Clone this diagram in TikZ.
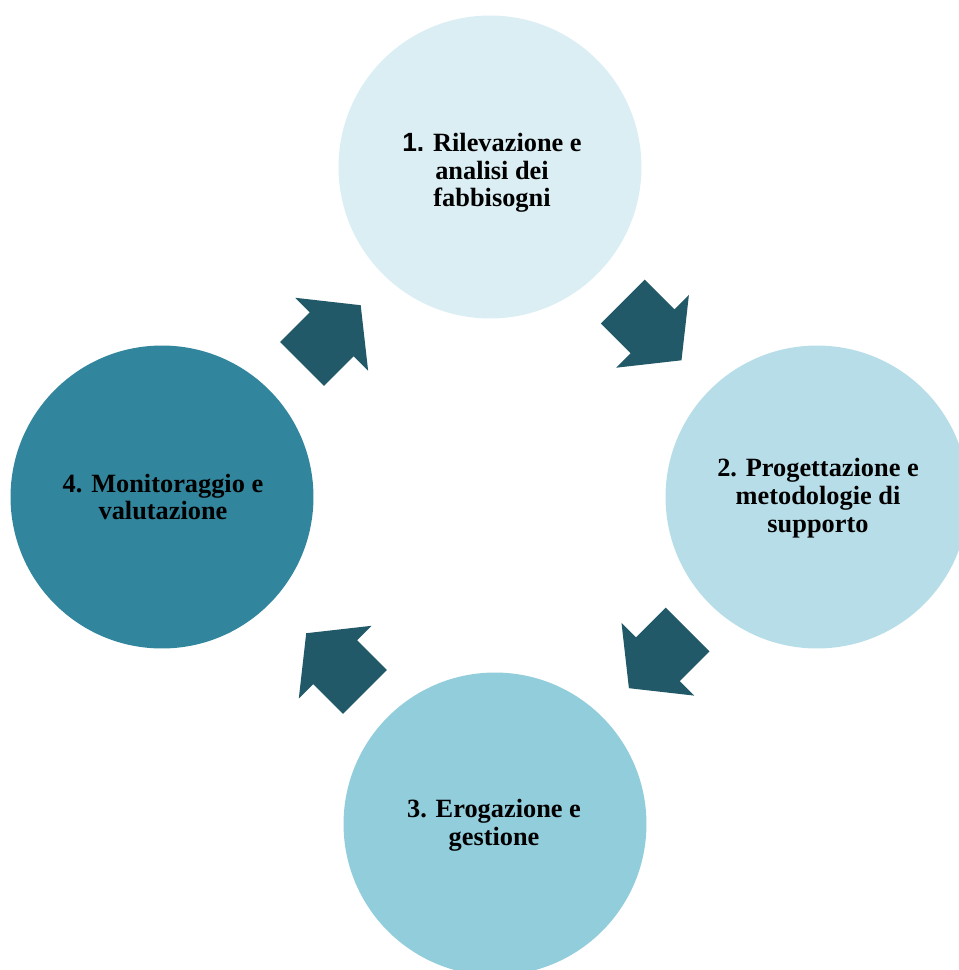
\documentclass[tikz,border=0pt]{standalone}
\usepackage{fontspec}
\setmainfont{Liberation Serif}
\newfontfamily\numfont{Liberation Sans}
\definecolor{stageA}{HTML}{DAEEF3}
\definecolor{stageB}{HTML}{B7DEE8}
\definecolor{stageC}{HTML}{92CDDC}
\definecolor{stageD}{HTML}{31859C}
\definecolor{flow}{HTML}{215968}
\begin{document}
\begin{tikzpicture}[x=0.02cm,y=-0.02cm,
  stage/.style={circle,draw=none,minimum size=6.06cm,inner sep=0pt},
  label/.style={align=center,inner sep=0pt,font=\fontsize{15pt}{15.8pt}\selectfont\bfseries},
  cyclearrow/.pic={
    \fill[flow] (-42,31) -- (0,31) -- (0,51.5) -- (41,0) -- (0,-51.5) -- (0,-31) -- (-42,-31) -- cycle;
  }]
\useasboundingbox (0,0) rectangle (959,970);
\clip (0,0) rectangle (959,970);
% the four stages of the cycle
\node[stage,fill=stageA] (c1) at (490,167) {};
\node[stage,fill=stageB] (c2) at (817,497) {};
\node[stage,fill=stageC] (c3) at (495,824) {};
\node[stage,fill=stageD] (c4) at (162,497) {};
% stage labels
\node[label] (t1) at (492,173) {{\numfont 1.} Rilevazione e\\analisi dei\\fabbisogni};
\node[label] (t2) at (818,498) {2. Progettazione e\\metodologie di\\supporto};
\node[label] (t3) at (494,825) {3. Erogazione e\\gestione};
\node[label] (t4) at (163,497) {4. Monitoraggio e\\valutazione};
% arrows between consecutive stages
\pic[rotate=-45] (a12) at (652.5,331.3) {cyclearrow};
\pic[rotate=-135] (a23) at (657.9,659.2) {cyclearrow};
\pic[rotate=135] (a34) at (335.2,662.2) {cyclearrow};
\pic[rotate=45] (a41) at (331.7,334.2) {cyclearrow};
\end{tikzpicture}
\end{document}
